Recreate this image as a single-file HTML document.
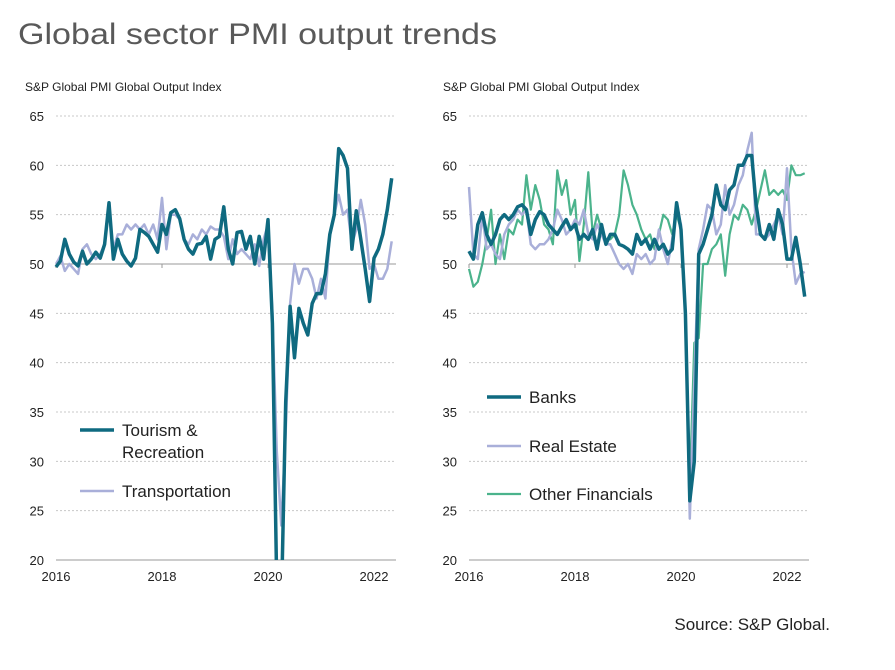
<!DOCTYPE html>
<html><head><meta charset="utf-8"><style>
body{margin:0;background:#fff;width:895px;height:665px;overflow:hidden;font-family:"Liberation Sans",sans-serif}
svg text{font-family:"Liberation Sans",sans-serif}
</style></head><body>
<svg id="c" width="895" height="665" xmlns="http://www.w3.org/2000/svg">
<text x="18" y="44" font-size="30" fill="#595959" textLength="479" lengthAdjust="spacingAndGlyphs">Global sector PMI output trends</text>
<text x="25" y="91" font-size="12" fill="#222">S&amp;P Global PMI Global Output Index</text>
<text x="443" y="91" font-size="12" fill="#222">S&amp;P Global PMI Global Output Index</text>
<text x="830" y="630" font-size="17" fill="#222" text-anchor="end">Source: S&amp;P Global.</text>
<defs>
<clipPath id="cl"><rect x="50" y="110" width="350" height="450"/></clipPath>
<clipPath id="cr"><rect x="464" y="110" width="350" height="450"/></clipPath>
</defs>
</svg>
<script>
const yTicks=[20,25,30,35,40,45,50,55,60,65];
const yearLabels=["2016","2018","2020","2022"];
const tourism=[49.7,50.3,52.5,51.0,50.2,49.8,51.3,50.0,50.5,51.2,50.6,52.0,
56.2,50.5,52.5,51.0,50.3,49.8,50.6,53.5,53.2,52.8,52.0,51.2,
54.0,53.0,55.2,55.5,54.6,52.5,51.5,51.0,52.0,52.1,52.8,50.5,
52.5,52.8,55.8,51.5,50.0,53.2,53.3,51.5,52.8,50.0,52.8,50.5,
54.5,44.0,17.0,15.0,36.0,45.7,40.5,45.5,44.0,42.8,46.0,47.0,
47.0,49.0,53.0,55.0,61.7,61.0,59.7,51.5,55.4,52.5,49.5,46.2,
50.6,51.5,53.0,55.5,58.7];
const transport=[50.0,50.8,49.3,50.0,49.5,49.0,51.5,52.0,51.0,50.5,51.0,52.0,
55.5,51.5,53.0,53.0,54.0,53.5,54.0,53.5,54.0,53.0,54.0,52.5,
56.7,51.5,55.0,55.0,54.5,52.5,52.0,53.0,52.5,53.5,53.0,53.8,
53.5,53.5,52.8,50.5,52.5,51.0,51.5,51.0,50.5,52.0,49.8,52.5,
54.0,45.0,31.0,23.5,33.0,46.0,50.0,48.0,49.5,49.5,48.5,46.5,
48.5,46.5,53.0,55.0,57.0,55.0,55.5,52.0,53.5,56.5,54.0,49.5,
50.0,48.5,48.5,49.5,52.3];
const banks=[51.3,50.5,54.0,55.2,53.0,52.0,53.0,54.5,55.0,54.5,55.0,55.8,
56.0,55.5,53.0,54.5,55.3,55.0,54.0,53.5,53.0,53.8,54.5,53.5,
54.0,52.5,53.0,52.5,53.5,51.5,54.0,52.0,53.0,53.0,52.0,51.8,
51.5,51.0,53.0,52.0,52.5,51.5,52.5,51.5,52.0,51.0,51.5,56.2,
53.5,45.0,26.0,30.0,51.0,52.0,53.5,55.0,58.0,56.0,55.5,57.5,
58.0,60.0,60.0,61.0,61.0,56.0,53.0,52.5,54.0,52.5,55.5,54.0,
50.5,50.5,52.7,50.0,46.7];
const realEstate=[57.8,51.0,50.5,55.0,51.5,52.0,51.0,50.5,53.0,54.0,54.5,55.5,
55.0,55.5,52.0,51.5,52.0,52.0,52.5,53.5,55.5,54.5,53.0,53.5,
54.5,54.0,55.5,53.0,52.5,54.0,53.0,52.0,52.0,51.0,50.0,49.5,
50.0,49.0,51.0,50.5,51.0,50.0,50.5,53.5,51.5,50.0,52.5,55.5,
54.0,45.0,24.2,38.0,51.5,53.5,56.0,55.5,53.0,54.0,58.0,55.0,
56.0,58.0,59.0,61.5,63.3,53.0,53.0,52.5,53.0,54.0,55.0,53.0,
59.7,51.5,48.0,49.0,49.2];
const otherFin=[49.5,47.7,48.2,50.0,52.5,55.5,50.0,53.0,50.5,53.5,53.0,54.5,
54.0,59.0,55.5,58.0,56.5,54.0,53.5,52.0,59.5,57.0,58.5,55.0,
56.5,50.3,54.0,59.3,53.0,55.0,53.5,52.5,52.5,53.0,55.0,59.5,
58.0,56.0,55.0,53.5,52.5,53.0,51.5,53.0,55.0,54.5,53.0,55.0,
53.5,45.0,27.5,42.0,42.5,50.0,50.0,51.5,52.0,53.0,48.8,53.0,
55.0,54.5,56.0,55.5,54.0,55.5,57.5,59.5,57.0,57.5,57.0,57.5,
56.5,60.0,59.0,59.0,59.2];

const svg=document.getElementById('c');
const NS='http://www.w3.org/2000/svg';
function yS(v){return 560-(v-20)*(444/45);}
function mk(tag,attrs){const e=document.createElementNS(NS,tag);for(const k in attrs)e.setAttribute(k,attrs[k]);svg.appendChild(e);return e;}
function panel(x0,clip,series,side){
  const xS=m=>x0+m*(106/24);
  const right=x0+340;
  yTicks.forEach(t=>{
    const y=yS(t);
    if(t!==20&&t!==50){const g=mk('line',{x1:x0,x2:right,y1:y,y2:y,stroke:'#c8c8c8','stroke-dasharray':'2,2','stroke-width':1});
      
      }
    const tl=mk('text',{x:x0-12,y:y+5,'font-size':13,fill:'#222','text-anchor':'end'});tl.textContent=t;
    
    
  });
  const a50=mk('line',{x1:x0,x2:right,y1:yS(50),y2:yS(50),stroke:'#999','stroke-width':1});
  
  
  const ax=mk('line',{x1:x0,x2:right,y1:560,y2:560,stroke:'#999','stroke-width':1});
  
  
  yearLabels.forEach((l,i)=>{
    const x=xS(i*24);
    const tk=mk('line',{x1:x,x2:x,y1:yS(50),y2:yS(50)+4,stroke:'#999'});
    
    
    const tx=mk('text',{x:x,y:581,'font-size':13,fill:'#222','text-anchor':'middle'});tx.textContent=l;
    
    
  });
  series.forEach(s=>{
    const d=s.data.map((v,i)=>(i?'L':'M')+xS(i).toFixed(1)+','+yS(v).toFixed(1)).join('');
    const p=mk('path',{d:d,fill:'none',stroke:s.color,'stroke-width':s.w,'stroke-linejoin':'round','clip-path':'url(#'+clip+')'});
    
    
  });
}
panel(56,'cl',[{data:transport,color:'#a9afd9',w:2.5,name:'transportation-line'},{data:tourism,color:'#0f6a80',w:3.5,name:'tourism-line'}],'left');
panel(469,'cr',[{data:otherFin,color:'#4bb38c',w:2.2,name:'other-financials-line'},{data:realEstate,color:'#a9afd9',w:2.5,name:'real-estate-line'},{data:banks,color:'#0f6a80',w:3.5,name:'banks-line'}],'right');
function legend(x,y,color,w,labels,name){
  const l=mk('line',{x1:x,x2:x+34,y1:y,y2:y,stroke:color,'stroke-width':w});
  
  
  labels.forEach((t,i)=>{const tx=mk('text',{x:x+42,y:y+6+i*22,'font-size':17,fill:'#222'});tx.textContent=t;
    
    });
}
legend(80,430,'#0f6a80',3.5,['Tourism &','Recreation'],'legend-tourism');
legend(80,491,'#a9afd9',2.5,['Transportation'],'legend-transportation');
legend(487,397,'#0f6a80',3.5,['Banks'],'legend-banks');
legend(487,446,'#a9afd9',2.5,['Real Estate'],'legend-real-estate');
legend(487,494,'#4bb38c',2.2,['Other Financials'],'legend-other-financials');
</script>
</body></html>
